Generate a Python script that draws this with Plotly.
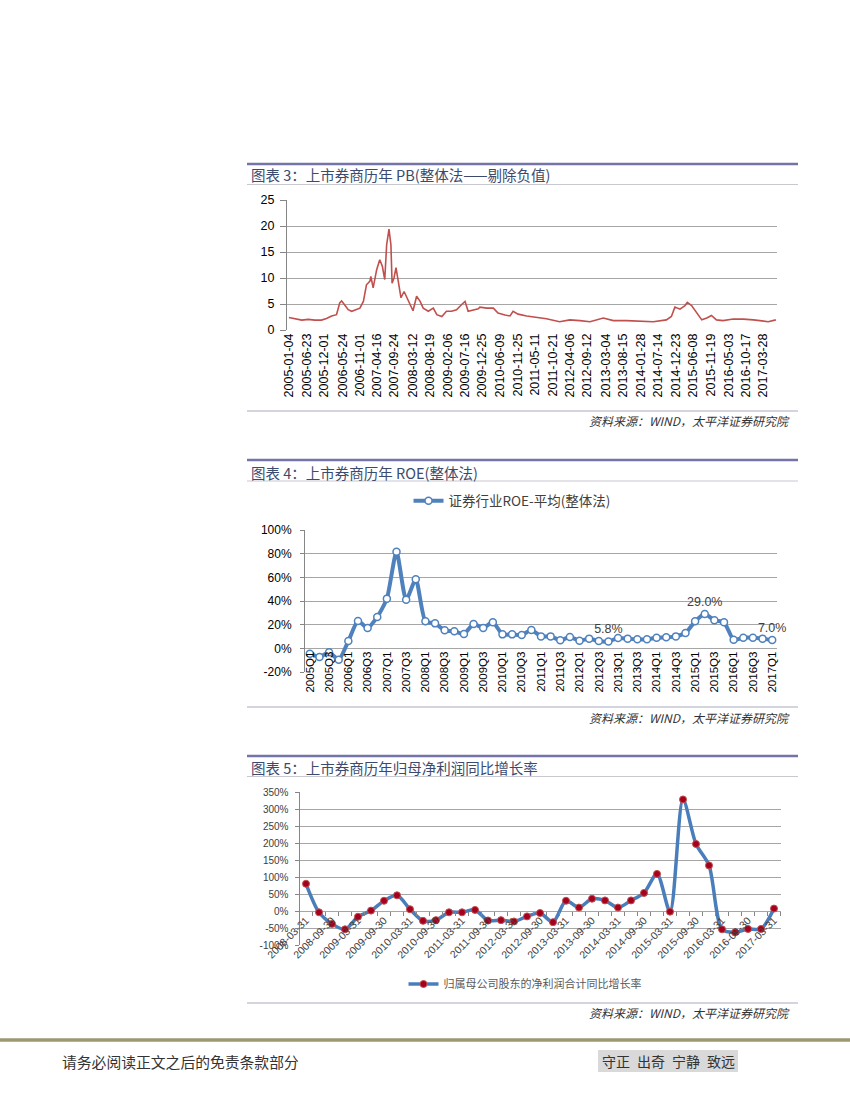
import plotly.graph_objects as go

W, H = 850, 1100

# ---------------- Chart 3: PB ----------------
pb_dates = [
    "2005-01-04", "2005-02-28", "2005-05-05", "2005-07-05", "2005-09-05", "2005-11-06",
    "2005-12-24", "2006-02-10", "2006-03-28", "2006-04-27", "2006-05-15", "2006-05-30",
    "2006-07-16", "2006-08-18", "2006-10-01", "2006-11-03", "2006-12-06", "2007-01-04",
    "2007-02-06", "2007-02-14", "2007-03-08", "2007-04-10", "2007-05-09", "2007-06-03",
    "2007-06-25", "2007-07-13", "2007-08-04", "2007-08-22", "2007-09-02", "2007-09-20",
    "2007-10-09", "2007-10-30", "2007-11-25", "2007-12-24", "2008-01-26", "2008-02-24",
    "2008-03-17", "2008-04-20", "2008-05-23", "2008-06-21", "2008-08-08", "2008-09-24",
    "2008-10-27", "2008-12-13", "2009-01-26", "2009-03-14", "2009-05-01", "2009-06-18",
    "2009-07-20", "2009-08-18", "2009-10-05", "2009-11-22", "2009-12-06", "2010-02-09",
    "2010-04-12", "2010-05-26", "2010-07-30", "2010-09-16", "2010-10-15", "2010-12-01",
    "2011-02-20", "2011-05-22", "2011-08-25", "2011-12-27", "2012-04-01", "2012-07-05",
    "2012-10-08", "2013-02-10", "2013-05-16", "2013-09-17", "2014-01-22", "2014-05-26",
    "2014-09-27", "2014-11-13", "2014-12-16", "2015-02-02", "2015-03-21", "2015-04-12",
    "2015-05-22", "2015-07-02", "2015-08-26", "2015-10-12", "2015-11-25", "2016-01-11",
    "2016-03-13", "2016-06-17", "2016-09-20", "2016-12-24", "2017-03-25", "2017-05-12",
    "2017-07-23",
]
pb_values = [
    2.4, 2.2, 1.9, 2.05, 1.9, 1.9,
    2.2, 2.7, 2.95, 5.2, 5.6, 5.2,
    3.9, 3.6, 3.9, 4.2, 5.5, 8.7,
    9.4, 10.3, 8.1, 11.6, 13.5, 12.2,
    9.7, 16.4, 19.4, 16.4, 9.0, 10.0,
    12.0, 9.2, 6.2, 7.4, 5.8, 4.5,
    3.7, 6.5, 5.5, 4.2, 3.6, 4.2,
    2.95, 2.6, 3.6, 3.6, 3.9, 4.9,
    5.5, 3.6, 3.9, 4.1, 4.4, 4.2,
    4.2, 3.25, 2.9, 2.7, 3.6, 3.05,
    2.7, 2.5, 2.15, 1.6, 1.95, 1.8,
    1.6, 2.3, 1.8, 1.8, 1.7, 1.6,
    1.95, 2.6, 4.4, 4.0, 4.7, 5.3,
    4.7, 3.6, 1.95, 2.3, 2.8, 1.95,
    1.8, 2.1, 2.1, 1.95, 1.8, 1.6,
    1.95,
]
pb_tick_dates = [
    "2005-01-04", "2005-06-23", "2005-12-01", "2006-05-24", "2006-11-01", "2007-04-16",
    "2007-09-24", "2008-03-12", "2008-08-19", "2009-02-06", "2009-07-16", "2009-12-25",
    "2010-06-09", "2010-11-25", "2011-05-11", "2011-10-21", "2012-04-06", "2012-09-12",
    "2013-03-04", "2013-08-15", "2014-01-28", "2014-07-14", "2014-12-23", "2015-06-08",
    "2015-11-19", "2016-05-03", "2016-10-17", "2017-03-28",
]
pb_yticks = [0, 5, 10, 15, 20, 25]

# ---------------- Chart 4: ROE ----------------
roe_quarters = [
    "2005Q1", "2005Q2", "2005Q3", "2005Q4", "2006Q1", "2006Q2", "2006Q3", "2006Q4",
    "2007Q1", "2007Q2", "2007Q3", "2007Q4", "2008Q1", "2008Q2", "2008Q3", "2008Q4",
    "2009Q1", "2009Q2", "2009Q3", "2009Q4", "2010Q1", "2010Q2", "2010Q3", "2010Q4",
    "2011Q1", "2011Q2", "2011Q3", "2011Q4", "2012Q1", "2012Q2", "2012Q3", "2012Q4",
    "2013Q1", "2013Q2", "2013Q3", "2013Q4", "2014Q1", "2014Q2", "2014Q3", "2014Q4",
    "2015Q1", "2015Q2", "2015Q3", "2015Q4", "2016Q1", "2016Q2", "2016Q3", "2016Q4",
    "2017Q1",
]
roe_values = [
    -4.5, -7.3, -3.4, -9.6, 6.2, 23.1, 17.2, 26.5,
    42.0, 81.7, 41.0, 58.3, 22.8, 21.1, 15.2, 14.4,
    12.1, 20.6, 17.2, 22.0, 11.8, 11.8, 11.2, 15.5,
    10.1, 10.1, 6.8, 9.6, 6.5, 8.2, 6.2, 5.8,
    8.7, 8.2, 7.6, 7.6, 9.0, 9.3, 10.1, 13.0,
    22.8, 29.0, 23.7, 22.0, 7.3, 9.0, 9.0, 8.2,
    7.0,
]
roe_labeled = ["2012Q4", "2015Q2", "2017Q1"]
roe_yticks = [-20, 0, 20, 40, 60, 80, 100]
roe_name = "证券行业ROE-平均(整体法)"

# ---------------- Chart 5: net profit growth ----------------
np_dates = [
    "2008-03-31", "2008-06-30", "2008-09-30", "2008-12-31",
    "2009-03-31", "2009-06-30", "2009-09-30", "2009-12-31",
    "2010-03-31", "2010-06-30", "2010-09-30", "2010-12-31",
    "2011-03-31", "2011-06-30", "2011-09-30", "2011-12-31",
    "2012-03-31", "2012-06-30", "2012-09-30", "2012-12-31",
    "2013-03-31", "2013-06-30", "2013-09-30", "2013-12-31",
    "2014-03-31", "2014-06-30", "2014-09-30", "2014-12-31",
    "2015-03-31", "2015-06-30", "2015-09-30", "2015-12-31",
    "2016-03-31", "2016-06-30", "2016-09-30", "2016-12-31",
    "2017-03-31",
]
np_values = [
    81, -3, -37, -53,
    -16, 2, 31, 47,
    6, -28, -26, -3,
    -3, 4, -27, -26,
    -30, -15, -5, -32,
    31, 11, 37, 32,
    11, 32, 54, 110,
    -1, 329, 198, 135,
    -53, -62, -52, -52,
    8,
]
np_yticks = [-100, -50, 0, 50, 100, 150, 200, 250, 300, 350]
np_name = "归属母公司股东的净利润合计同比增长率"

titles = [
    "图表 3：上市券商历年 PB(整体法——剔除负值)",
    "图表 4：上市券商历年 ROE(整体法)",
    "图表 5：上市券商历年归母净利润同比增长率",
]
source_text = "资料来源：WIND，太平洋证券研究院"
footer_left = "请务必阅读正文之后的免责条款部分"
footer_right = "守正\u2002出奇\u2002宁静\u2002致远"

# ---------------- helpers ----------------
def fx(px):
    return px / W


def fy(py):
    return 1 - py / H


FONT = "Liberation Sans, Noto Sans CJK SC, sans-serif"
CJK = "Noto Sans CJK SC, sans-serif"
GRID = "#a6a6a6"
AXIS = "#868686"

fig = go.Figure()

fig.add_trace(go.Scatter(
    x=pb_dates, y=pb_values, mode="lines", xaxis="x", yaxis="y",
    line=dict(color="#c0504d", width=1.6), showlegend=False,
))

roe_text = []
for q, v in zip(roe_quarters, roe_values):
    roe_text.append(f"{v:.1f}%" if q in roe_labeled else "")

fig.add_trace(go.Scatter(
    x=roe_quarters, y=roe_values, mode="lines+markers+text", xaxis="x2", yaxis="y2",
    name=roe_name, text=roe_text, textposition="top center",
    textfont=dict(family=FONT, size=12.5, color="#404040"),
    line=dict(color="#4f81bd", width=4, shape="spline", smoothing=0.6),
    marker=dict(size=7, color="white", line=dict(color="#4f81bd", width=1.5)),
    legend="legend", cliponaxis=False,
))

fig.add_trace(go.Scatter(
    x=np_dates, y=np_values, mode="lines+markers", xaxis="x3", yaxis="y3",
    name=np_name,
    line=dict(color="#4a7ebb", width=3.5, shape="spline", smoothing=0.8),
    marker=dict(size=7, color="#a5001e", line=dict(color="#c0504d", width=1)),
    legend="legend2", cliponaxis=False,
))

np_ticktext = [d if i % 2 == 0 else "" for i, d in enumerate(np_dates)]
roe_tickvals = roe_quarters[::2]

fig.update_layout(
    width=W, height=H, margin=dict(l=0, r=0, t=0, b=0, pad=0, autoexpand=False),
    autosize=False,
    paper_bgcolor="white", plot_bgcolor="white",
    font=dict(family=FONT, color="#000000"),
    # chart 3
    xaxis=dict(
        domain=[fx(287), fx(777)], anchor="y", type="date",
        range=["2004-12-17", "2017-08-03"],
        tickvals=pb_tick_dates, ticktext=pb_tick_dates, tickangle=-90,
        showgrid=False, showline=False, ticks="", zeroline=False, automargin=False,
        tickfont=dict(size=12.5, color="#000000"),
    ),
    yaxis=dict(
        domain=[fy(330), fy(200)], anchor="x", range=[0, 25],
        tickvals=pb_yticks, showgrid=True, gridcolor=GRID, gridwidth=1,
        showline=True, linecolor=AXIS, ticks="outside", ticklen=6, tickcolor=AXIS,
        zeroline=False, tickfont=dict(size=12.5, color="#000000"), ticklabelstandoff=3,
        automargin=False,
    ),
    # chart 4
    xaxis2=dict(
        domain=[fx(305), fx(777)], anchor="free", position=fy(648.3), type="category",
        range=[-0.5, len(roe_quarters) - 0.5],
        tickvals=roe_tickvals, ticktext=roe_tickvals, tickangle=-90,
        showgrid=False, showline=False, ticks="", zeroline=False, automargin=False,
        tickfont=dict(size=11.5, color="#000000"),
    ),
    yaxis2=dict(
        domain=[fy(672), fy(530)], anchor="x2", range=[-20, 100],
        tickvals=roe_yticks, ticktext=[f"{t}%" for t in roe_yticks],
        showgrid=True, gridcolor=GRID, gridwidth=1,
        showline=True, linecolor=AXIS, ticks="outside", ticklen=4, tickcolor=AXIS,
        zeroline=False, tickfont=dict(size=12, color="#000000"), ticklabelstandoff=6,
        automargin=False,
    ),
    # chart 5
    xaxis3=dict(
        domain=[fx(299.5), fx(780.5)], anchor="free", position=fy(911.3), type="category",
        range=[-0.5, len(np_dates) - 0.5],
        tickvals=np_dates, ticktext=np_ticktext, tickangle=-45,
        tickson="boundaries", ticks="outside", ticklen=4, tickcolor=AXIS,
        showgrid=False, showline=False, zeroline=False, automargin=False,
        tickfont=dict(size=10.5, color="#404040"),
    ),
    yaxis3=dict(
        domain=[fy(945.3), fy(792.3)], anchor="x3", range=[-100, 350],
        tickvals=np_yticks, ticktext=[f"{t}%" for t in np_yticks],
        showgrid=True, gridcolor=GRID, gridwidth=1,
        showline=True, linecolor=AXIS, ticks="outside", ticklen=4, tickcolor=AXIS,
        zeroline=False, tickfont=dict(size=10, color="#404040"), ticklabelstandoff=4,
        automargin=False,
    ),
    legend=dict(
        x=fx(512), y=fy(501), xanchor="center", yanchor="middle", orientation="h",
        font=dict(family=CJK, size=13.5, color="#404040"), bgcolor="rgba(0,0,0,0)",
        itemwidth=30,
    ),
    legend2=dict(
        x=fx(525), y=fy(984), xanchor="center", yanchor="middle", orientation="h",
        font=dict(family=CJK, size=11, color="#595959"), bgcolor="rgba(0,0,0,0)",
        itemwidth=30,
    ),
)

shapes = []
annotations = []

# grey dense-tick band under chart 3
shapes.append(dict(
    type="rect", xref="x domain", yref="y", x0=0, x1=1,
    ysizemode="pixel", yanchor=0, y0=0, y1=-5,
    fillcolor="#a6a6a6", line=dict(width=0), layer="above",
))

header_rules = [164, 460, 756]
title_thin = [184.5, 481, 776.5]
title_y = [175, 472, 767]
source_rule = [411, 707, 1003]
source_y = [420.5, 717, 1012.5]

for i in range(3):
    shapes.append(dict(type="line", xref="paper", yref="paper",
                       x0=fx(247), x1=fx(798), y0=fy(header_rules[i]), y1=fy(header_rules[i]),
                       line=dict(color="#7474a8", width=2.5)))
    shapes.append(dict(type="line", xref="paper", yref="paper",
                       x0=fx(247), x1=fx(798), y0=fy(title_thin[i]), y1=fy(title_thin[i]),
                       line=dict(color="#c8c8d0", width=1)))
    shapes.append(dict(type="line", xref="paper", yref="paper",
                       x0=fx(247), x1=fx(798), y0=fy(source_rule[i]), y1=fy(source_rule[i]),
                       line=dict(color="#a9a9bd", width=1)))
    annotations.append(dict(
        text=titles[i], xref="paper", yref="paper", x=fx(249), y=fy(title_y[i]),
        xanchor="left", yanchor="middle", showarrow=False,
        font=dict(family=CJK, size=14.5, color="#3c4a6e"),
    ))
    annotations.append(dict(
        text=f"<i>{source_text}</i>", xref="paper", yref="paper", x=fx(792), y=fy(source_y[i]),
        xanchor="right", yanchor="middle", showarrow=False,
        font=dict(family=CJK, size=12, color="#333333"),
    ))

# footer
shapes.append(dict(type="line", xref="paper", yref="paper", x0=0, x1=1,
                   y0=fy(1040), y1=fy(1040), line=dict(color="#9c9870", width=3.5)))
shapes.append(dict(type="rect", xref="paper", yref="paper",
                   x0=fx(598), x1=fx(738), y0=fy(1072), y1=fy(1050),
                   fillcolor="#d9d9d9", line=dict(width=0), layer="below"))
annotations.append(dict(
    text=footer_left, xref="paper", yref="paper", x=fx(60), y=fy(1061),
    xanchor="left", yanchor="middle", showarrow=False,
    font=dict(family=CJK, size=14.8, color="#333333"),
))
annotations.append(dict(
    text=footer_right, xref="paper", yref="paper", x=fx(668), y=fy(1061),
    xanchor="center", yanchor="middle", showarrow=False,
    font=dict(family=CJK, size=14, color="#333333"),
))

fig.update_layout(shapes=shapes, annotations=annotations)

fig.write_html(
    "out.html",
    config={"displayModeBar": False},
    post_script="document.body.style.margin='0';document.body.style.padding='0';",
)
